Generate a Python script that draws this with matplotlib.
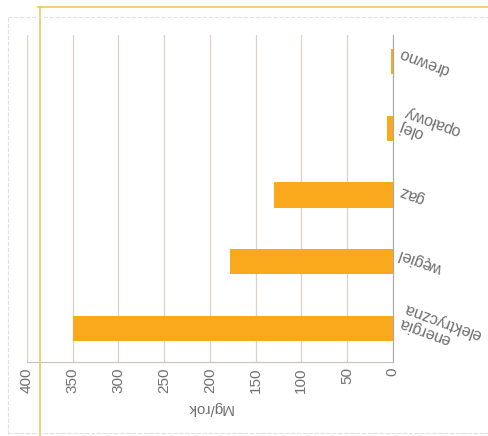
import matplotlib.pyplot as plt
from matplotlib.lines import Line2D

# dane (wykres jest odwrócony o 180 stopni, jak na skanie)
kategorie = ['drewno', 'olej\nopałowy', 'gaz', 'węgiel', 'energia\nelektryczna']
wartosci = [2, 6, 130, 178, 350]
ticki = [0, 50, 100, 150, 200, 250, 300, 350, 400]

pomarancz = '#FBA91C'
szary = '#707070'

plt.rcParams['font.family'] = ['Liberation Sans', 'DejaVu Sans']

fig = plt.figure(figsize=(4.88, 4.36), dpi=100)
ax = fig.add_axes([0.055, 0.170, 0.750, 0.750])

poz = list(range(len(kategorie)))
ax.barh(poz, wartosci, height=0.38, color=pomarancz, zorder=3)

ax.set_xlim(400, 0)
ax.set_ylim(4.5, -0.4)
ax.set_xticks(ticki)
ax.set_xticklabels([str(t) for t in ticki], rotation=90, color=szary, fontsize=11)
ax.tick_params(axis='x', length=0, pad=4)
ax.set_yticks([])
ax.grid(axis='x', color='#dcd0cc', linewidth=0.9, zorder=0)

for s in ['top', 'left']:
    ax.spines[s].set_visible(False)
ax.spines['bottom'].set_color('#c8c0bc')
ax.spines['right'].set_color('#a8a8a8')

ax.set_xlabel('Mg/rok', rotation=180, color=szary, fontsize=11, labelpad=6)

for p, k in zip(poz, kategorie):
    ax.annotate(k, xy=(0, p), xytext=(3, 0), textcoords='offset points',
                rotation=160, ha='left', va='center', color=szary,
                fontsize=11.5, multialignment='right', linespacing=1.0)

# ślady ramki ze skanu
fig.add_artist(Line2D([38/488, 1], [1 - 7/436, 1 - 7/436], color='#F7C35A', lw=1.2))
fig.add_artist(Line2D([40/488, 40/488], [0, 1 - 7/436], color='#F7C35A', lw=1.2))
fig.add_artist(Line2D([8/488, 1], [1 - 17/436, 1 - 17/436], color='#e0e0e0', lw=0.8, ls='--'))
fig.add_artist(Line2D([8/488, 8/488], [0.005, 1 - 17/436], color='#e0e0e0', lw=0.8, ls='--'))
fig.add_artist(Line2D([8/488, 1], [3/436, 3/436], color='#e0e0e0', lw=0.8, ls='--'))

fig.savefig('out.png', dpi=100)
